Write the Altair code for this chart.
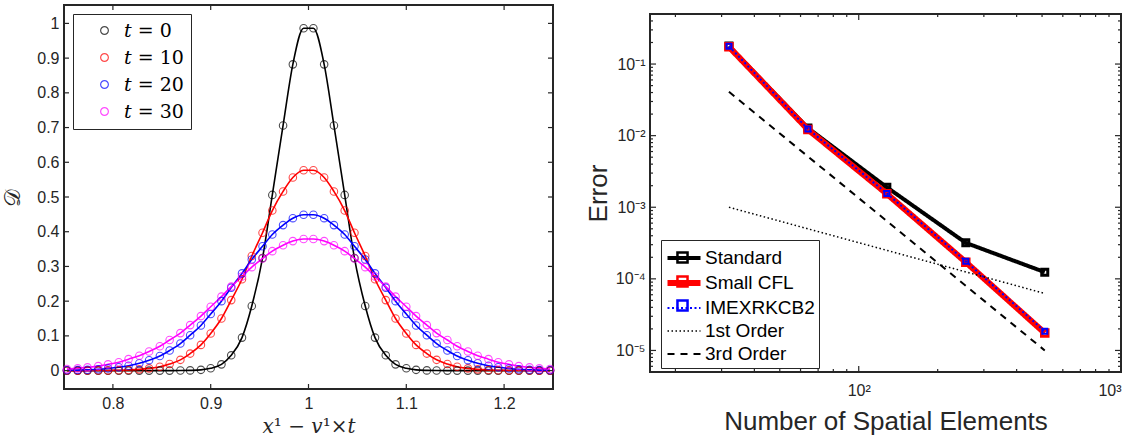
import altair as alt
import pandas as pd

# ---------------- Left panel data ----------------
x_pos = [0.753, 0.764, 0.774, 0.785, 0.795, 0.806, 0.816, 0.827, 0.837, 0.848, 0.858, 0.869,
         0.879, 0.890, 0.900, 0.911, 0.921, 0.932, 0.942, 0.953, 0.963, 0.974, 0.984, 0.995,
         1.005, 1.016, 1.026, 1.037, 1.047, 1.058, 1.068, 1.079, 1.089, 1.100, 1.110, 1.121,
         1.131, 1.142, 1.152, 1.163, 1.173, 1.184, 1.194, 1.205, 1.215, 1.226, 1.236, 1.247]

d_t0 = [0, 0, 0, 0, 0, 0, 0, 0, 0, 0, 0, 0.0001, 0.0006, 0.0022, 0.0066, 0.018, 0.044, 0.095,
        0.186, 0.324, 0.506, 0.706, 0.882, 0.986,
        0.986, 0.882, 0.706, 0.506, 0.324, 0.186, 0.095, 0.044, 0.018, 0.0066, 0.0022, 0.0006,
        0.0001, 0, 0, 0, 0, 0, 0, 0, 0, 0, 0, 0]
d_t10 = [0, 0, 0.0001, 0.0002, 0.0005, 0.001, 0.0019, 0.0036, 0.0065, 0.011, 0.019, 0.031,
         0.049, 0.074, 0.107, 0.150, 0.203, 0.263, 0.330, 0.397, 0.461, 0.516, 0.556, 0.577,
         0.577, 0.556, 0.516, 0.461, 0.397, 0.330, 0.263, 0.203, 0.150, 0.107, 0.074, 0.049,
         0.031, 0.019, 0.011, 0.0065, 0.0036, 0.0019, 0.001, 0.0005, 0.0002, 0.0001, 0, 0]
d_t20 = [0.0009, 0.0015, 0.0025, 0.004, 0.0062, 0.0096, 0.014, 0.021, 0.030, 0.042, 0.058, 0.078,
         0.102, 0.130, 0.163, 0.200, 0.239, 0.280, 0.320, 0.358, 0.392, 0.419, 0.439, 0.449,
         0.449, 0.439, 0.419, 0.392, 0.358, 0.320, 0.280, 0.239, 0.200, 0.163, 0.130, 0.102,
         0.078, 0.058, 0.042, 0.030, 0.021, 0.014, 0.0096, 0.0062, 0.004, 0.0025, 0.0015, 0.0009]
d_t30 = [0.0045, 0.0065, 0.0093, 0.013, 0.018, 0.024, 0.033, 0.043, 0.055, 0.070, 0.088, 0.108,
         0.131, 0.157, 0.184, 0.213, 0.242, 0.271, 0.298, 0.323, 0.344, 0.361, 0.373, 0.379,
         0.379, 0.373, 0.361, 0.344, 0.323, 0.298, 0.271, 0.242, 0.213, 0.184, 0.157, 0.131,
         0.108, 0.088, 0.070, 0.055, 0.043, 0.033, 0.024, 0.018, 0.013, 0.0093, 0.0065, 0.0045]

t_labels = ["𝑡 = 0", "𝑡 = 10", "𝑡 = 20", "𝑡 = 30"]
t_colors = ["#000000", "#ff0000", "#0000ff", "#ff00ff"]
left_x_ticks = [0.8, 0.9, 1.0, 1.1, 1.2]
left_y_ticks = [0, 0.1, 0.2, 0.3, 0.4, 0.5, 0.6, 0.7, 0.8, 0.9, 1.0]

# ---------------- Right panel data ----------------
n_elem = [32, 64, 128, 256, 512]
err_standard = [0.178, 0.0128, 0.0019, 0.000318, 0.000124]
err_small_cfl = [0.174, 0.0122, 0.00154, 0.000171, 0.0000175]
err_imex = [0.177, 0.0124, 0.00156, 0.000176, 0.0000185]
n_ref = [32, 512]
err_first = [0.001, 0.0000625]
err_third = [0.041, 0.00001]
series_names = ["Standard", "Small CFL", "IMEXRKCB2", "1st Order", "3rd Order"]
series_colors = ["#000000", "#ff0000", "#0000ff", "#000000", "#000000"]
series_dash = [[1, 0], [1, 0], [2, 2.5], [1.5, 2.5], [7, 6]]
series_width = [4, 6, 2, 1.5, 2]
marker_names = ["Standard", "Small CFL", "IMEXRKCB2"]
marker_colors = ["#000000", "#ff0000", "#0000ff"]
right_x_major = [100, 1000]
right_x_minor = [20, 30, 40, 50, 60, 70, 80, 90, 200, 300, 400, 500, 600, 700, 800, 900]
right_y_major = [1e-5, 1e-4, 1e-3, 1e-2, 1e-1]
right_y_minor = [6e-6, 7e-6, 8e-6, 9e-6,
                 2e-5, 3e-5, 4e-5, 5e-5, 6e-5, 7e-5, 8e-5, 9e-5,
                 2e-4, 3e-4, 4e-4, 5e-4, 6e-4, 7e-4, 8e-4, 9e-4,
                 2e-3, 3e-3, 4e-3, 5e-3, 6e-3, 7e-3, 8e-3, 9e-3,
                 2e-2, 3e-2, 4e-2, 5e-2, 6e-2, 7e-2, 8e-2, 9e-2,
                 0.2, 0.3, 0.4]

AX = "#262626"

# ---------------- Left panel ----------------
LW, LH = 489, 384
rows = []
for lab, vals in zip(t_labels, [d_t0, d_t10, d_t20, d_t30]):
    for xv, dv in zip(x_pos, vals):
        rows.append({"x": xv, "D": dv, "series": lab})
df_left = pd.DataFrame(rows)

xs_l = alt.Scale(domain=[0.75, 1.25], nice=False, zero=False)
ys_l = alt.Scale(domain=[-0.053, 1.053], nice=False, zero=False)
cs_l = alt.Scale(domain=t_labels, range=t_colors)

x_axis_l = alt.Axis(
    values=left_x_ticks, format="~g", labelPadding=6, labelFontSize=16, labelOverlap=False,
    title="𝑥¹ − 𝑣¹×𝑡", titleFont="DejaVu Serif", titleFontSize=20,
    titleFontWeight="normal", titlePadding=5)
y_axis_l = alt.Axis(
    values=left_y_ticks, tickCount=11, format="~g", labelPadding=5, labelFontSize=16,
    labelOverlap=False, labelBound=False, labelFlush=False,
    title="𝒟", titleFont="DejaVu Serif", titleFontSize=22,
    titleFontWeight="normal", titlePadding=12)

left_legend = alt.Legend(
    title=None, orient="top-left", offset=9, padding=7, fillColor="white",
    strokeColor=AX, symbolType="circle", symbolSize=60, symbolStrokeWidth=1.2,
    symbolOffset=15, labelOffset=10, labelFont="DejaVu Serif", labelFontSize=19,
    labelColor="black", rowPadding=7)

base_l = alt.Chart(df_left)
lines_l = base_l.mark_line(strokeWidth=1.6, interpolate="monotone").encode(
    x=alt.X("x:Q", scale=xs_l, axis=x_axis_l),
    y=alt.Y("D:Q", scale=ys_l, axis=y_axis_l),
    color=alt.Color("series:N", scale=cs_l, legend=left_legend),
    detail="series:N")
points_l = base_l.mark_point(shape="circle", filled=False, size=56, strokeWidth=1.1).encode(
    x=alt.X("x:Q", scale=xs_l, axis=x_axis_l),
    y=alt.Y("D:Q", scale=ys_l, axis=y_axis_l),
    color=alt.Color("series:N", scale=cs_l, legend=left_legend))


def ticks_x(vals, scale, axis, H, length):
    d = pd.DataFrame({"v": vals})
    c = alt.Chart(d)
    b = c.mark_rule(color=AX, strokeWidth=1.2).encode(
        x=alt.X("v:Q", scale=scale, axis=axis), y=alt.value(H), y2=alt.value(H - length))
    t = c.mark_rule(color=AX, strokeWidth=1.2).encode(
        x=alt.X("v:Q", scale=scale, axis=axis), y=alt.value(0), y2=alt.value(length))
    return [b, t]


def ticks_y(vals, scale, axis, W, length):
    d = pd.DataFrame({"v": vals})
    c = alt.Chart(d)
    l = c.mark_rule(color=AX, strokeWidth=1.2).encode(
        y=alt.Y("v:Q", scale=scale, axis=axis), x=alt.value(0), x2=alt.value(length))
    r = c.mark_rule(color=AX, strokeWidth=1.2).encode(
        y=alt.Y("v:Q", scale=scale, axis=axis), x=alt.value(W), x2=alt.value(W - length))
    return [l, r]


left = alt.layer(
    lines_l, points_l,
    *ticks_x(left_x_ticks, xs_l, x_axis_l, LH, 5),
    *ticks_y(left_y_ticks, ys_l, y_axis_l, LW, 5),
).properties(width=LW, height=LH)

# ---------------- Right panel ----------------
RW, RH = 471, 358
rrows = []
for name, ns, es in [("Standard", n_elem, err_standard), ("Small CFL", n_elem, err_small_cfl),
                     ("IMEXRKCB2", n_elem, err_imex), ("1st Order", n_ref, err_first),
                     ("3rd Order", n_ref, err_third)]:
    for nv, ev in zip(ns, es):
        rrows.append({"N": nv, "err": ev, "series": name})
df_right = pd.DataFrame(rrows)

xs_r = alt.Scale(type="log", domain=[16, 1000], nice=False)
ys_r = alt.Scale(type="log", domain=[5e-6, 0.5], nice=False)

x_axis_r = alt.Axis(
    values=right_x_major, labelExpr="'10' + (datum.value >= 999 ? '³' : '²')",
    labelPadding=10, labelFontSize=16, labelOverlap=False, title="Number of Spatial Elements",
    titleFontSize=26, titleFontWeight="normal", titlePadding=10)
y_axis_r = alt.Axis(
    values=right_y_major,
    labelExpr="'10' + ['⁻⁵','⁻⁴','⁻³','⁻²','⁻¹'][round(log(datum.value)/LN10)+5]",
    labelPadding=5, labelFontSize=16, labelOverlap=False, title="Error", titleFontSize=26,
    titleFontWeight="normal", titlePadding=4)

leg_common = dict(title=None, orient="none", legendX=11, legendY=235, padding=4,
                  symbolSize=576, labelFont="Liberation Sans", labelFontSize=19,
                  rowPadding=0, labelOffset=6, symbolOffset=4)
line_legend = alt.Legend(strokeColor=AX, symbolType="M-1.375,0H1.375", labelColor="black",
                         **leg_common)
marker_legend = alt.Legend(labelColor="transparent", symbolStrokeWidth=2.5,
                           symbolFillColor="transparent", **leg_common)

color_r = alt.Color("series:N", scale=alt.Scale(domain=series_names, range=series_colors),
                    legend=line_legend)
dash_r = alt.StrokeDash("series:N", scale=alt.Scale(domain=series_names, range=series_dash),
                        legend=line_legend)
width_r = alt.StrokeWidth("series:N", scale=alt.Scale(type="ordinal", domain=series_names,
                                                      range=series_width),
                          legend=line_legend)
sq_path = "M-0.42,-0.42H0.42V0.42H-0.42Z"
shape_r = alt.Shape("series:N", scale=alt.Scale(domain=marker_names, range=[sq_path] * 3),
                    legend=marker_legend)
stroke_r = alt.Stroke("series:N", scale=alt.Scale(domain=marker_names, range=marker_colors),
                      legend=marker_legend)

marker_style = {"Standard": (204, 3), "Small CFL": (240, 3), "IMEXRKCB2": (142, 2)}
xr = alt.X("N:Q", scale=xs_r, axis=x_axis_r)
yr = alt.Y("err:Q", scale=ys_r, axis=y_axis_r)
layers_r = []
for i, name in enumerate(series_names):
    sub = alt.Chart(df_right).transform_filter(alt.datum.series == name)
    layers_r.append(sub.mark_line().encode(x=xr, y=yr, color=color_r, strokeDash=dash_r,
                                           strokeWidth=width_r))
    if name in marker_style:
        sz, sw = marker_style[name]
        layers_r.append(sub.mark_point(filled=False, size=sz, strokeWidth=sw, opacity=1).encode(
            x=xr, y=yr, shape=shape_r, stroke=stroke_r))

right = alt.layer(
    *layers_r,
    *ticks_x(right_x_major, xs_r, x_axis_r, RH, 6),
    *ticks_x(right_x_minor, xs_r, x_axis_r, RH, 3),
    *ticks_y(right_y_major, ys_r, y_axis_r, RW, 6),
    *ticks_y(right_y_minor, ys_r, y_axis_r, RW, 3),
).properties(width=RW, height=RH)

spacer = alt.Chart(pd.DataFrame({"v": [0]})).mark_rule(opacity=0).encode(
    x=alt.value(0)).properties(width=RW, height=1, view=alt.ViewBackground(strokeWidth=0))

right_col = alt.vconcat(spacer, right, spacing=6)

chart = alt.hconcat(left, right_col, spacing=26).resolve_scale(
    color="independent", strokeDash="independent", strokeWidth="independent",
    shape="independent", stroke="independent"
).resolve_legend(
    color="independent", strokeDash="independent", strokeWidth="independent",
    shape="independent", stroke="independent"
).configure(
    padding={"left": 0, "top": 3, "right": 2, "bottom": 0},
    font="Liberation Sans",
).configure_view(stroke=AX, strokeWidth=2).configure_axis(
    grid=False, domain=False, ticks=False, labelColor=AX, titleColor=AX,
    labelFont="Liberation Sans", titleFont="Liberation Sans")

chart.save("out.html", embed_options={"renderer": "svg", "actions": False})
